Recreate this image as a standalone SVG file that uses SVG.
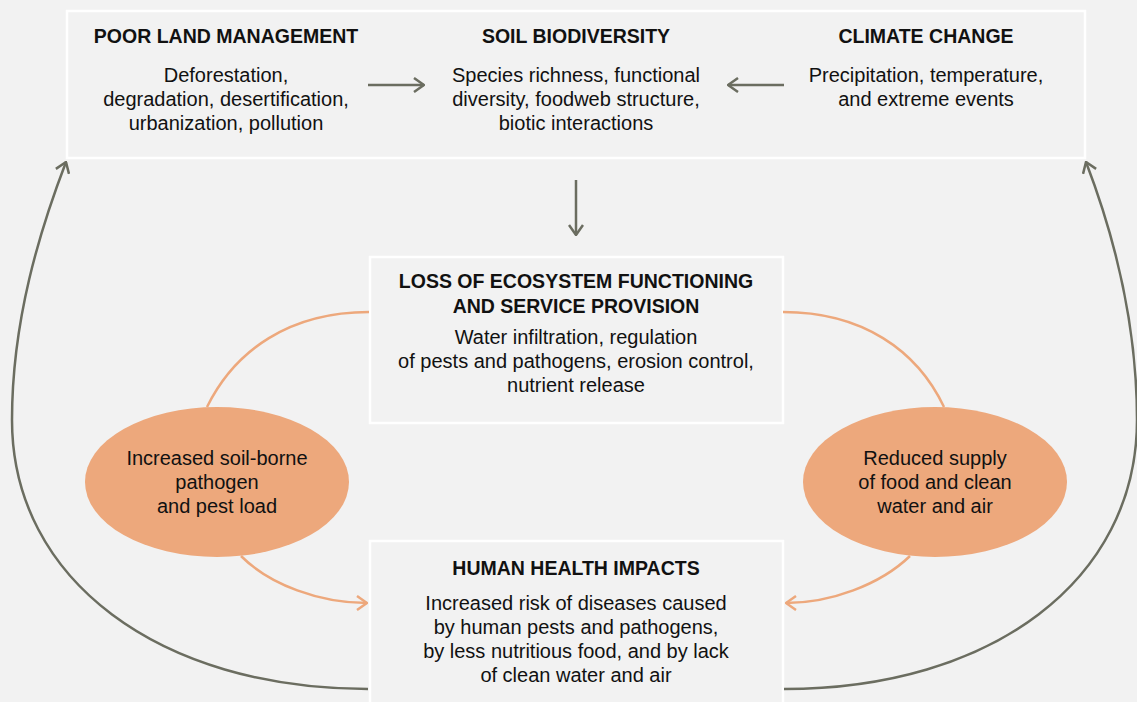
<svg xmlns="http://www.w3.org/2000/svg" width="1137" height="702" viewBox="0 0 1137 702">
<defs>
<style>
.box{fill:#f2f2f2;stroke:#ffffff;stroke-width:2.5}
.ell{fill:#eda87c}
.t{font-family:"Liberation Sans",Arial,sans-serif;font-size:19.5px;font-weight:bold;fill:#111;text-anchor:middle}
.b{font-family:"Liberation Sans",Arial,sans-serif;font-size:20px;fill:#111;text-anchor:middle}
.g{fill:none;stroke:#6b6d60;stroke-width:2.5}
.o{fill:none;stroke:#eda87c;stroke-width:2.5}
</style>
<marker id="mg" viewBox="0 0 12 16" refX="11" refY="8" markerWidth="12" markerHeight="16" markerUnits="userSpaceOnUse" orient="auto">
<path d="M1,1 L11,8 L1,15" fill="none" stroke="#6b6d60" stroke-width="2.5"/>
</marker>
<marker id="mo" viewBox="0 0 12 16" refX="11" refY="8" markerWidth="12" markerHeight="16" markerUnits="userSpaceOnUse" orient="auto">
<path d="M1,1 L11,8 L1,15" fill="none" stroke="#eda87c" stroke-width="2.5"/>
</marker>
</defs>
<rect x="0" y="0" width="1137" height="702" fill="#f2f2f2"/>

<g id="top-box"><rect class="box" x="67" y="11" width="1018" height="147"/></g>

<g id="poor-land">
<text class="t" x="226" y="43">POOR LAND MANAGEMENT</text>
<text class="b" x="226" y="82">Deforestation,</text>
<text class="b" x="226" y="106">degradation, desertification,</text>
<text class="b" x="226" y="130">urbanization, pollution</text>
</g>
<g id="soil-biodiversity">
<text class="t" x="576" y="43">SOIL BIODIVERSITY</text>
<text class="b" x="576" y="82">Species richness, functional</text>
<text class="b" x="576" y="106">diversity, foodweb structure,</text>
<text class="b" x="576" y="130">biotic interactions</text>
</g>
<g id="climate-change">
<text class="t" x="926" y="43">CLIMATE CHANGE</text>
<text class="b" x="926" y="82">Precipitation, temperature,</text>
<text class="b" x="926" y="106">and extreme events</text>
</g>

<g id="loss-ecosystem">
<rect class="box" x="370" y="257" width="413" height="166"/>
<text class="t" x="576" y="288">LOSS OF ECOSYSTEM FUNCTIONING</text>
<text class="t" x="576" y="313">AND SERVICE PROVISION</text>
<text class="b" x="576" y="344">Water infiltration, regulation</text>
<text class="b" x="576" y="368">of pests and pathogens, erosion control,</text>
<text class="b" x="576" y="392">nutrient release</text>
</g>

<g id="human-health">
<rect class="box" x="370" y="541" width="413" height="170"/>
<text class="t" x="576" y="575">HUMAN HEALTH IMPACTS</text>
<text class="b" x="576" y="610">Increased risk of diseases caused</text>
<text class="b" x="576" y="634">by human pests and pathogens,</text>
<text class="b" x="576" y="658">by less nutritious food, and by lack</text>
<text class="b" x="576" y="682">of clean water and air</text>
</g>

<g id="pathogen-load">
<ellipse class="ell" cx="217" cy="482" rx="132" ry="75"/>
<text class="b" x="217" y="465">Increased soil-borne</text>
<text class="b" x="217" y="489">pathogen</text>
<text class="b" x="217" y="513">and pest load</text>
</g>

<g id="reduced-supply">
<ellipse class="ell" cx="935" cy="482" rx="132" ry="75"/>
<text class="b" x="935" y="465">Reduced supply</text>
<text class="b" x="935" y="489">of food and clean</text>
<text class="b" x="935" y="513">water and air</text>
</g>

<g id="connectors">
<path class="g" d="M368,85 H424" marker-end="url(#mg)"/>
<path class="g" d="M784,85 H728" marker-end="url(#mg)"/>
<path class="g" d="M576,180 V235" marker-end="url(#mg)"/>
<path class="g" d="M368,689 C160,689 12,580 12,420 C12,320 40,230 66,162" marker-end="url(#mg)"/>
<path class="g" d="M784,689 C992,689 1137,580 1137,420 C1137,320 1112,230 1086,162" marker-end="url(#mg)"/>
<path class="o" d="M369,312 C290,312 235,350 207,407"/>
<path class="o" d="M783,312 C862,312 917,350 944,407"/>
<path class="o" d="M241,556 C270,585 320,603 367,603" marker-end="url(#mo)"/>
<path class="o" d="M910,556 C880,585 830,603 786,603" marker-end="url(#mo)"/>
</g>
</svg>
